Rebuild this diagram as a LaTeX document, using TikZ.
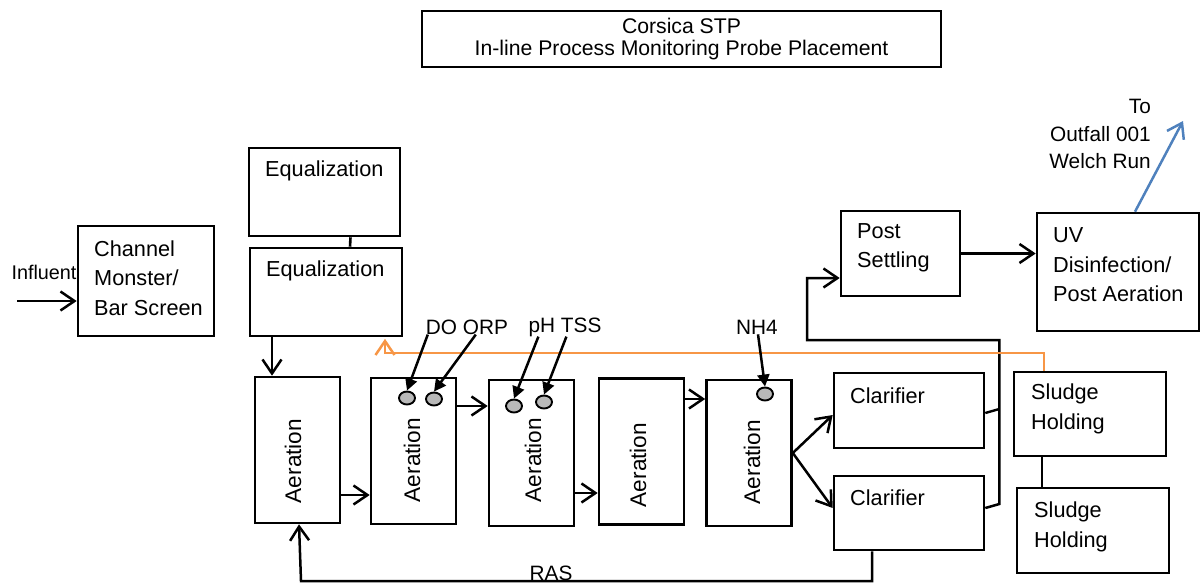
\documentclass[tikz,border=0pt]{standalone}
\usepackage{fontspec}
\setmainfont{Liberation Sans}
\usetikzlibrary{arrows.meta,shapes.geometric,positioning}
\definecolor{retorange}{HTML}{F79646}
\definecolor{outblue}{HTML}{4F81BD}

\begin{document}
\begin{tikzpicture}[x=1pt, y=-1pt,
  box/.style={draw, line width=2.6pt, inner sep=0pt},
  aer/.style={box, minimum width=85pt, minimum height=146pt},
  boxtxt/.style={anchor=west, align=left, inner sep=0pt, font=\fontsize{21.7}{29.5}\selectfont},
  aertxt/.style={rotate=90, inner sep=0pt, font=\fontsize{22.6}{25}\selectfont},
  lbl/.style={inner sep=0pt, font=\fontsize{20.8}{27.5}\selectfont},
  probe/.style={ellipse, draw, line width=1.9pt, fill=gray!55, minimum width=16pt, minimum height=13pt, inner sep=0pt},
  flow/.style={line width=2.5pt, -{Straight Barb[length=14pt,width=19pt]}},
  link/.style={line width=2.6pt},
  sense/.style={line width=2.5pt, -{Triangle[length=12pt,width=12pt]}}]
\useasboundingbox (0,0) rectangle (1201,584);

% Title
\node[box, line width=2pt, minimum width=519pt, minimum height=56pt, align=center, font=\fontsize{21.2}{22}\selectfont] (title) at (681.5,39) {Corsica STP\\In-line Process Monitoring Probe Placement};

% Headworks and equalization
\coordinate (infl) at (17,301);
\node[lbl, font=\fontsize{19.8}{22}\selectfont] (influent) at (44,272) {Influent};
\node[box, minimum width=136pt, minimum height=110pt] (chan) at (146,281) {};
\node[boxtxt] (chantxt) at (94,278) {Channel\\Monster/\\Bar Screen};
\node[box, minimum width=151pt, minimum height=88pt] (eqa) at (324.5,192) {};
\node[boxtxt] (eqatxt) at (265,171) {Equalization};
\node[box, minimum width=152pt, minimum height=88pt] (eqb) at (326,292) {};
\node[boxtxt] (eqbtxt) at (266,271) {Equalization};

% Aeration basins left to right
\node[aer] (aer1) at (297.5,450) {};
\node[aertxt] (aer1txt) at (293,461) {Aeration};
\node[aer] (aer2) at (413.5,451) {};
\node[aertxt] (aer2txt) at (412,460) {Aeration};
\node[aer] (aer3) at (531.5,453) {};
\node[aertxt] (aer3txt) at (533,460) {Aeration};
\node[aer] (aer4) at (641.5,451.5) {};
\node[aertxt] (aer4txt) at (638,465) {Aeration};
\node[aer] (aer5) at (749,453) {};
\node[aertxt] (aer5txt) at (752,462) {Aeration};

% Probes
\node[probe] (do) at (407,398) {};
\node[probe] (orp) at (434,399) {};
\node[probe] (ph) at (514,406) {};
\node[probe] (tss) at (544,402) {};
\node[probe] (nh) at (765,394) {};
\node[lbl] (doorp) at (467,327) {DO ORP};
\node[lbl] (phtss) at (565,327) {pH TSS};
\node[lbl] (nhlbl) at (757,327) {NH4};

% Clarifiers, post settling, UV and sludge holding
\node[box, minimum width=150pt, minimum height=75pt] (cla1) at (909,410.5) {};
\node[boxtxt] (cla1txt) at (850,396) {Clarifier};
\node[box, minimum width=150pt, minimum height=74pt] (cla2) at (909,513) {};
\node[boxtxt] (cla2txt) at (850,498) {Clarifier};
\node[box, minimum width=119pt, minimum height=85pt] (post) at (900.5,253.5) {};
\node[boxtxt] (posttxt) at (857,248) {Post\\Settling};
\node[box, minimum width=162pt, minimum height=118pt] (uv) at (1118,272) {};
\node[boxtxt] (uvtxt) at (1053,265) {UV\\Disinfection/\\Post Aeration};
\node[box, minimum width=152pt, minimum height=84pt] (sl1) at (1090,414) {};
\node[boxtxt] (sl1txt) at (1031,409) {Sludge\\Holding};
\node[box, minimum width=152pt, minimum height=85pt] (sl2) at (1093,530.5) {};
\node[boxtxt] (sl2txt) at (1034,527) {Sludge\\Holding};
\node[lbl, align=right, anchor=east] (outtxt) at (1151,134) {To\\Outfall 001\\Welch Run};
\coordinate (outfall) at (1183,121);
\node[lbl] (ras) at (551,573) {RAS};

% Flow connectors
\draw[flow] (infl) -- (infl -| chan.west);
\draw[link] ([xshift=26pt]eqa.south) -- ([xshift=24pt]eqb.north);
\draw[flow] ([xshift=-54pt]eqb.south) -- ([xshift=-25.5pt]aer1.north);
\draw[flow] ([yshift=-45pt]aer1.east) -- ([yshift=-45pt]aer1.east -| aer2.west);
\draw[flow] ([yshift=45pt]aer2.east) -- ([yshift=45pt]aer2.east -| aer3.west);
\draw[flow] ([yshift=-40pt]aer3.east) -- ([yshift=-40pt]aer3.east -| aer4.west);
\draw[flow] ([yshift=52.5pt]aer4.east) -- ([yshift=52.5pt]aer4.east -| aer5.west);
\draw[flow] (aer5.east) -- ([yshift=-4.5pt]cla1.west);
\draw[flow] (aer5.east) -- ([yshift=5pt]cla2.west);

% Clarifier effluent to post settling
\coordinate (turn) at (807,340);
\draw[line width=2.4pt] ([yshift=-2.5pt]cla1.east) -- ++(14,-4);
\draw[flow] ([yshift=5pt]cla2.east) -- ++(14,-4) |- (turn) |- ([yshift=-24.5pt]post.west);
\draw[flow] (post.east) -- (post.east -| uv.west);
\draw[flow, outblue] ([xshift=17pt]uv.north) -- (outfall);
\draw[link] ([xshift=-48pt]sl1.south) -- ([xshift=-51pt]sl2.north);

% Sludge return (orange) and RAS
\coordinate (retcorner) at (385,353);
\draw[flow, retorange, shorten >=1.5pt] ([xshift=-46pt]sl1.north) |- (retcorner) -- (retcorner |- eqb.south);
\coordinate (rascorner) at (301,581);
\draw[flow] ([xshift=-37pt]cla2.south) |- (rascorner) -- ([xshift=1.5pt]aer1.south);

% Probe pointers
\draw[sense] ([xshift=2pt]doorp.south west) -- (do.north);
\draw[sense] ([xshift=50pt]doorp.south west) -- (orp.north);
\draw[sense] ([xshift=10pt]phtss.south west) -- (ph.north);
\draw[sense] ([xshift=38pt]phtss.south west) -- (tss.north);
\draw[sense] ([xshift=1pt]nhlbl.south) -- (nh.north);
\end{tikzpicture}
\end{document}
